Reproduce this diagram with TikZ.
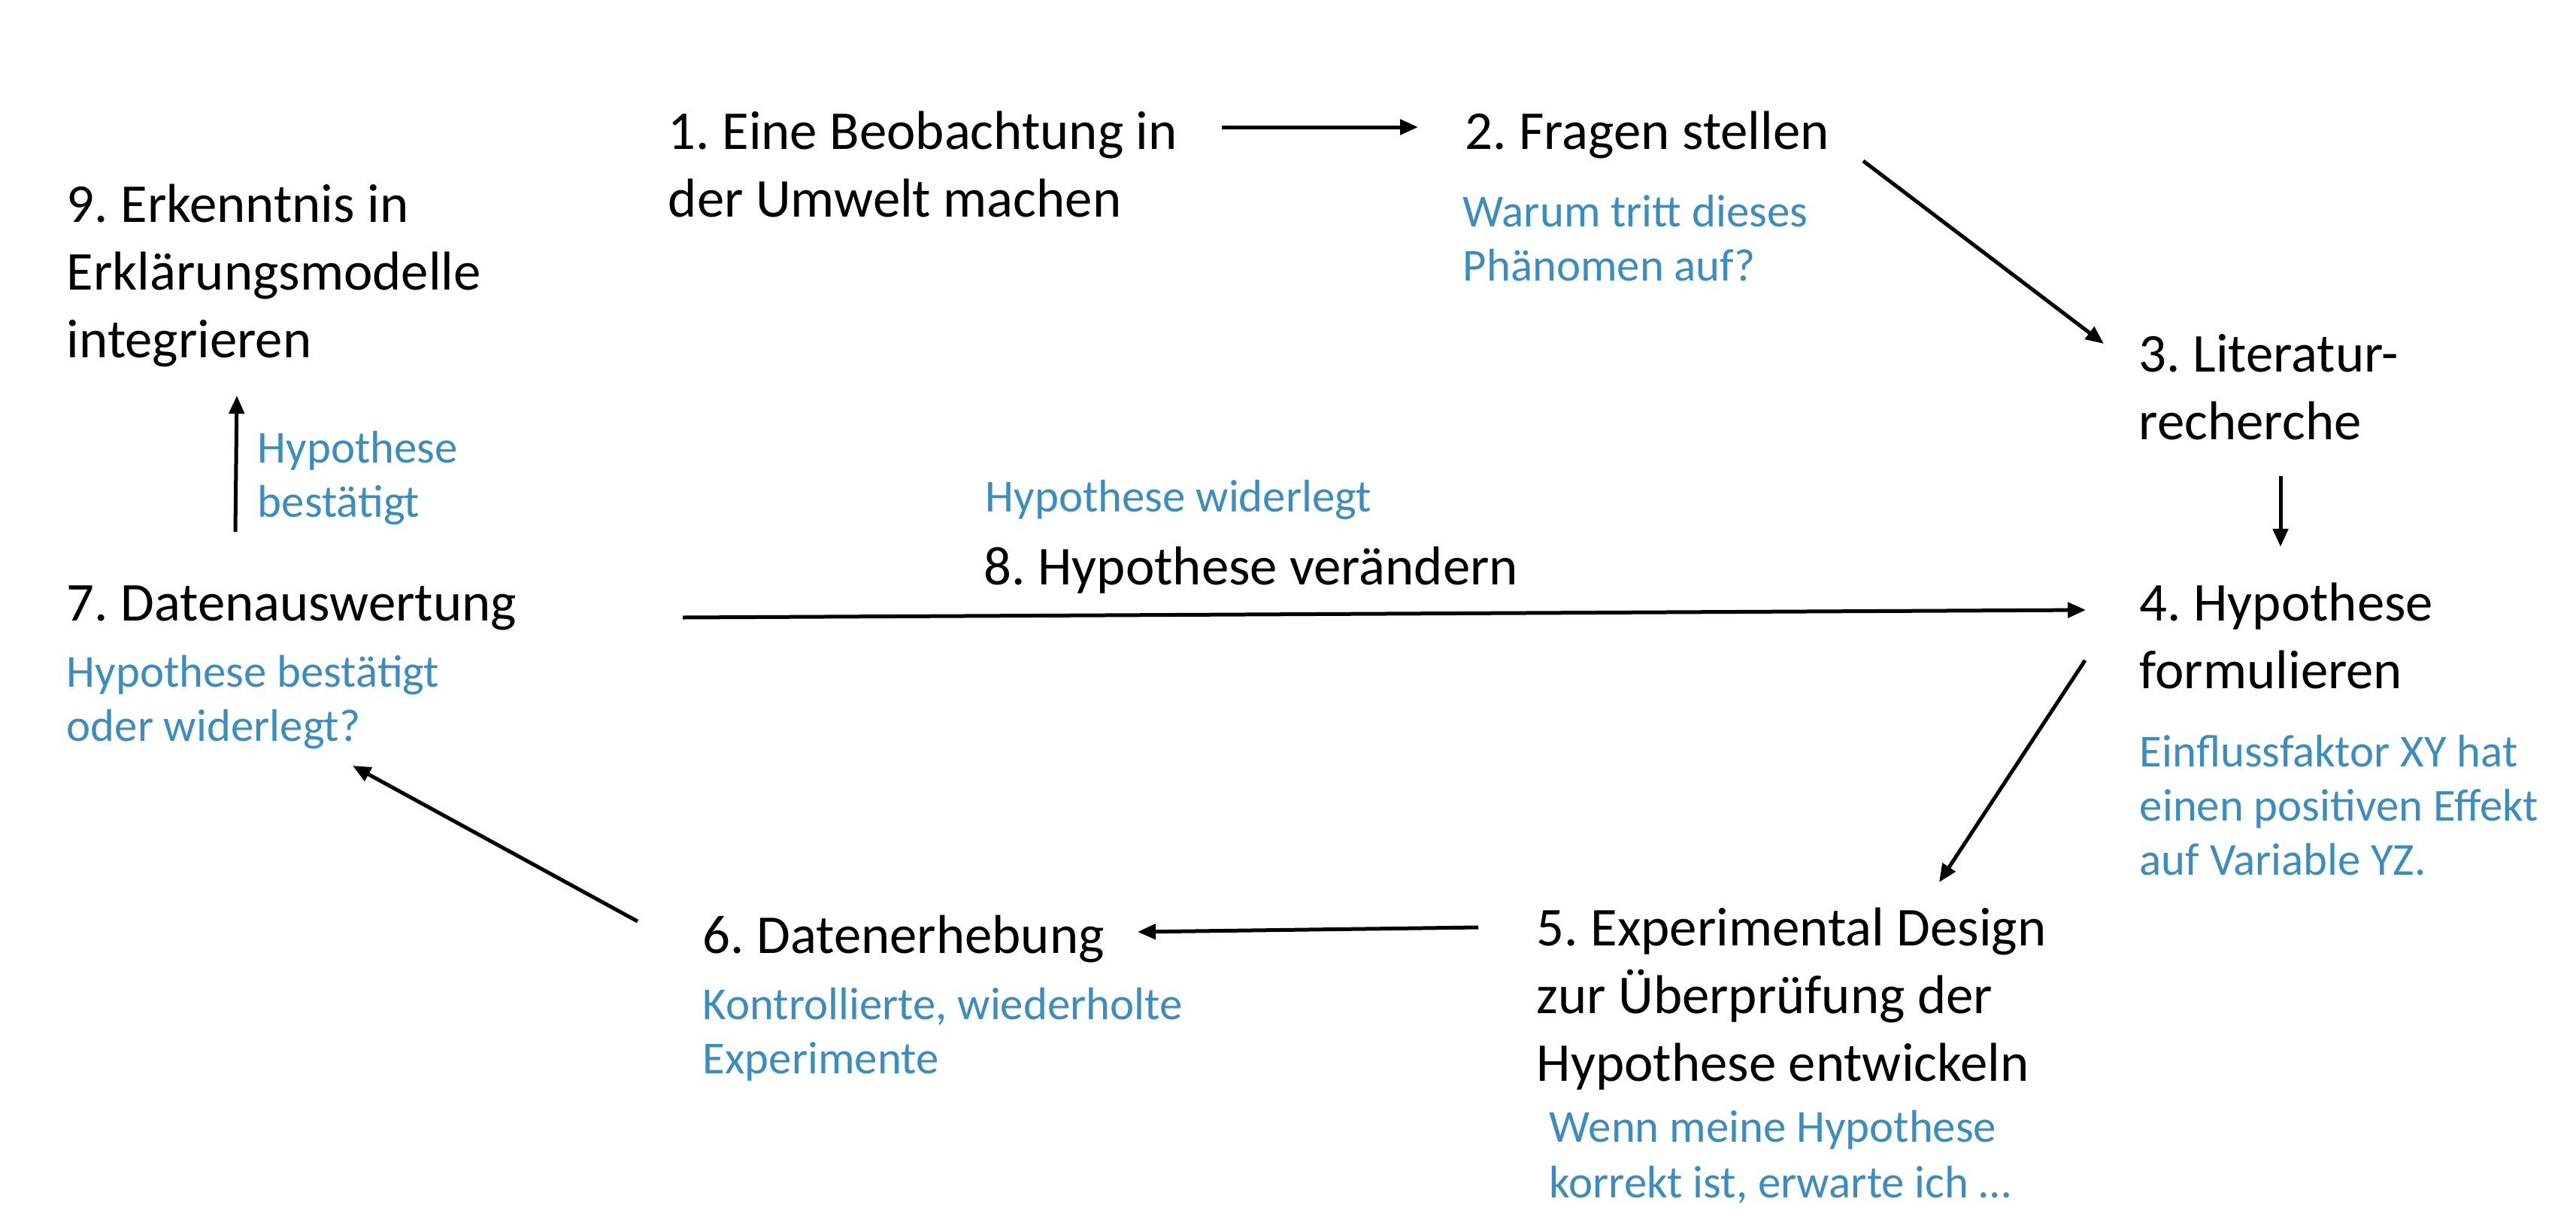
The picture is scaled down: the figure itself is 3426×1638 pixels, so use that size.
\documentclass[tikz,border=0pt]{standalone}
\usepackage{fontspec}
\setmainfont{Carlito}
\usetikzlibrary{arrows.meta}
\definecolor{noteblue}{RGB}{60,140,190}
\frenchspacing
% nodes are anchored at the baseline of their last line
\tikzset{
  stage/.style={font=\fontsize{18.2pt}{22.5pt}\selectfont, align=left, anchor=base west, inner sep=0pt},
  note/.style={font=\fontsize{15.2pt}{17.9pt}\selectfont, text=noteblue, align=left, anchor=base west, inner sep=0pt},
  flow/.style={-{Triangle[length=6pt,width=5pt]}, line width=1.25pt},
}
\begin{document}
\begin{tikzpicture}[x=0.25pt, y=-0.25pt]
  \useasboundingbox (0,0) rectangle (3426,1638);

  % stages of the research cycle
  \node[stage] (s1) at (888,288)  {1. Eine Beobachtung in\\der Umwelt machen};
  \node[stage] (s2) at (1948,198) {2. Fragen stellen};
  \node[stage] (s3) at (2844,584) {3. Literatur-\\recherche};
  \node[stage] (s4) at (2845,915) {4. Hypothese\\formulieren};
  \node[stage] (s5) at (2043,1437) {5. Experimental Design\\zur Überprüfung der\\Hypothese entwickeln};
  \node[stage] (s6) at (934,1267) {6. Datenerhebung};
  \node[stage] (s7) at (88,825)   {7. Datenauswertung};
  \node[stage] (s8) at (1308,777) {8. Hypothese verändern};
  \node[stage] (s9) at (88,475)   {9. Erkenntnis in\\Erklärungsmodelle\\integrieren};

  % explanatory notes
  \node[note] (n2) at (1945,373) {Warum tritt dieses\\Phänomen auf?};
  \node[note] (n4) at (2845,1163) {Einflussfaktor XY hat\\einen positiven Effekt\\auf Variable YZ.};
  \node[note, font=\fontsize{15.2pt}{18.5pt}\selectfont] (n5) at (2060,1592) {Wenn meine Hypothese\\korrekt ist, erwarte ich …};
  \node[note] (n6) at (934,1427) {Kontrollierte, wiederholte\\Experimente};
  \node[note] (n7) at (88,985)   {Hypothese bestätigt\\oder widerlegt?};
  \node[note] (n8) at (1310,680) {Hypothese widerlegt};
  \node[note] (n9) at (342,687)  {Hypothese\\bestätigt};

  % arrow end points
  \coordinate (s1out) at (1625,169);  \coordinate (s2in) at (1886,169);
  \coordinate (s2out) at (2478,214);  \coordinate (s3in) at (2798,457);
  \coordinate (s3out) at (3033,633);  \coordinate (s4in) at (3033,727);
  \coordinate (s4out) at (2773,878);  \coordinate (s5in) at (2579,1173);
  \coordinate (s5out) at (1966,1233); \coordinate (s6in) at (1513,1239);
  \coordinate (s6out) at (848,1225);  \coordinate (s7in) at (469,1018);
  \coordinate (s7back) at (908,821);  \coordinate (s4back) at (2774,811);
  \coordinate (s7up) at (313,707);    \coordinate (s9in) at (315,526);

  % connectors
  \draw[flow] (s1out) -- (s2in);
  \draw[flow] (s2out) -- (s3in);
  \draw[flow] (s3out) -- (s4in);
  \draw[flow] (s4out) -- (s5in);
  \draw[flow] (s5out) -- (s6in);
  \draw[flow] (s6out) -- (s7in);
  \draw[flow] (s7back) -- (s4back);
  \draw[flow] (s7up) -- (s9in);
\end{tikzpicture}
\end{document}
